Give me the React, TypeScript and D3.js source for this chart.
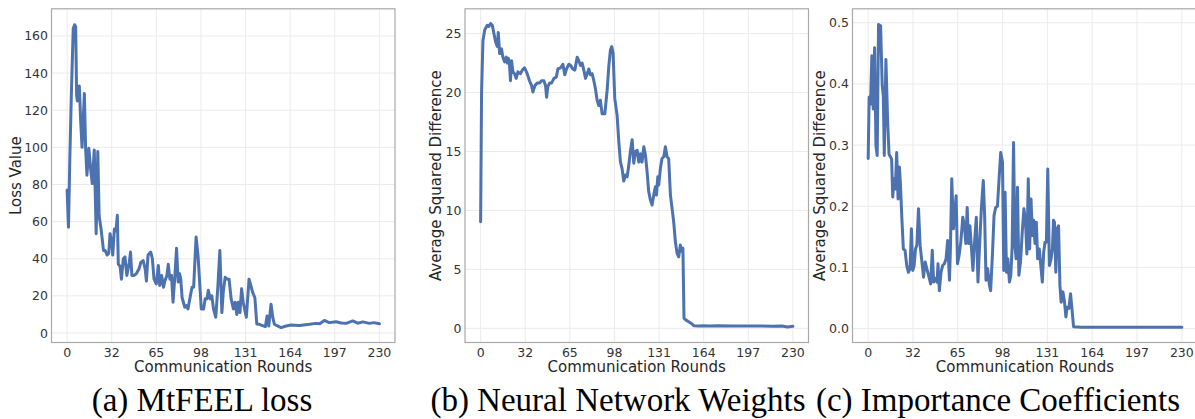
import React from "react";
import * as d3 from "d3";

// ---------- Data ----------
const roundsA = [0,1,2,3,4.5,5.5,6.3,7,7.5,9,10,11,12.7,13.6,14.6,16,17.3,18.5,20,21.4,22.6,23.6,25,26.8,28,29.5,30.7,31.6,32.9,33.6,34.8,36,37,37.7,39,40,41.4,42.6,44,45.8,46.7,47.7,49.4,51,53,54.3,56,57.5,58.4,59.6,61.6,62.8,64,65.7,67.2,68.2,69.6,71,72,73.5,74.5,75.7,76.9,78,79.4,80.6,81.8,82.8,83.7,84.7,86.7,87.9,89,90.8,92,93.2,95,96.4,97.6,98.8,100.5,101.7,103,104,105.4,106.6,107.8,109.5,111,112.5,114,115,116.4,118,119.3,120.8,122.5,123.7,125,126,127.3,128.5,129.7,131,132,134,135.3,136.6,138.3,139.7,141.6,144,146,147.3,148.5,150.2,151.5,152.7,155,157.6,161.3,165,171,178.5,183.4,186,189.5,193,198,202,205.5,210.4,214,217.8,222.7,226,230];
const lossA = [77,57,94,125,164,166,165,128,125,133,114,100,129,100,85,99.5,88.6,80.5,98.6,53.5,97.7,63,56,44.5,44.5,42,43,53.5,49,42,56,55,63.4,37,36,29,40,41,31,38,43.6,31,31,32,34.6,38,39,34.6,28,42,43.6,40,29,26.5,36.4,25.6,31,24.7,28,31,37,29,31,16.6,31,45.6,27.5,32,29,19,13.9,14.8,13,20,24.7,24.7,51.7,42,27.6,13,13,18.4,18.4,23,18.4,20,13,8.5,24.7,44.5,11,22,30,29,29,18.4,13,16.6,10,16.6,11,23.8,16.6,12,8.5,29,25.6,22,19,4.9,4.7,4,3.4,9.2,3.8,15.5,8.3,4.7,3.8,2.9,3.8,4.3,4.1,4.7,5.2,5.0,6.8,5.6,6.1,5.4,5.2,6.5,5.3,6,5.2,5.6,5];

const roundsB = [0,0.7,1.7,3,4.9,6.1,7.4,8.6,9.8,11,12.3,13,14,15.4,16.4,17.7,18.9,19.6,20.4,21.3,22,22.8,23.8,25,26.2,27.5,29.4,30.7,32.4,34.3,36,37.5,38.5,40,41.7,43.4,44.9,46.6,47.8,48.6,49.5,50.8,52.2,54,55.7,56.9,58.9,60.6,62,63.3,65,66.2,67.9,69.4,71.1,72.3,73.6,74.8,76,77.3,78.5,79.7,80.9,82.1,83.4,84.6,85.8,87,88.2,89.5,91.5,93.2,94.4,95.6,96.6,97.6,98.8,100.5,101.8,103,104.2,105.4,106.7,107.9,109,110.3,111.6,112.8,114,115.3,116.5,117.7,118.9,120.2,121.4,122.6,123.8,125,126.3,127.5,128.7,129.5,130.5,131.2,132.4,133.6,134.9,136.1,137.3,138.5,139.8,141,142.2,143.5,144.7,145.9,147.1,148.4,149,149.8,151.3,153.3,155.2,157,160.6,164.3,168,175,185,195,205,215,222,226,230];
const weightsB = [9.04,20,24.4,25.3,25.7,25.6,25.85,25.7,25,24.3,23.9,25.1,23.3,23.7,23,22.6,23,22.5,22.9,22.3,21,22.7,21.75,21.6,21.2,21.75,21.6,21.9,22.1,21.6,21,20.6,20.05,20.6,20.8,20.8,21,21,20.6,19.6,20.5,20.8,20.8,21.2,21.3,22,22.1,22.4,21.5,22,22.4,22.3,22,21.9,23,22.7,22.3,22.5,21.9,21.2,21.6,22,21.5,21.6,21,20.3,19.35,18.9,19.35,18.2,18.2,20.2,22.2,23.6,23.9,23.3,19.5,18.1,15.8,14.1,13.55,12.5,13,12.85,13.7,15,16,14,15,15.1,14.1,14.8,14.1,15.4,14.7,13.3,11.6,10.9,10.45,11.3,12,11.3,12.85,12.15,13.55,14.4,14.55,15.4,14.55,14.4,11.3,10.2,9.04,7.3,6.36,6.07,7.06,6.5,6.8,0.85,0.7,0.56,0.42,0.23,0.2,0.23,0.2,0.22,0.2,0.19,0.2,0.17,0.2,0.12,0.17];

const roundsC = [0,0.7,1.7,2.7,3.7,4.7,5.7,6.6,7.6,9.1,10.3,11.1,11.8,13,14.3,15.3,16.5,17.2,18,19,19.9,20.9,21.9,22.9,23.6,24.6,25.8,27,28.3,29.5,30.7,31.7,32.7,33.7,34.7,35.7,36.9,38.1,39.4,40.6,41.8,43,44.3,45.8,47,48,49.2,50.5,51.2,52.2,53.4,54.6,55.9,57.1,58.3,59.6,60.3,61.3,62.5,63.5,64.5,65.5,66.7,67.9,69.4,70.6,71.6,72.6,73.6,74.6,75.6,76.8,78,79.3,80.5,81.7,83,84.4,85.4,86.4,87.6,88.9,89.8,91.1,92.3,93.5,94.8,96,97.2,98.5,99.4,100.4,101.4,102.4,103.6,104.6,105.6,106.6,107.6,108.5,109.5,110.5,111.7,113,114.2,115.4,116.4,117.4,118.4,119.4,120.4,121.4,122.3,123.3,124.3,125.5,126.8,127.7,128.7,129.7,130.7,131.7,132.9,134.1,135.1,135.9,136.6,137.6,138.6,139.6,140.6,141.5,142.8,144,145,145.9,147.2,148.4,149.4,150.6,156.3,230];
const coeffC = [0.278,0.378,0.367,0.446,0.359,0.459,0.299,0.283,0.497,0.495,0.397,0.38,0.283,0.44,0.337,0.285,0.28,0.277,0.215,0.245,0.228,0.288,0.212,0.264,0.239,0.185,0.13,0.128,0.103,0.092,0.098,0.163,0.095,0.103,0.13,0.136,0.196,0.136,0.109,0.084,0.109,0.098,0.087,0.073,0.128,0.076,0.082,0.076,0.106,0.062,0.092,0.103,0.106,0.114,0.144,0.079,0.13,0.245,0.163,0.19,0.217,0.106,0.12,0.141,0.182,0.168,0.139,0.198,0.139,0.168,0.136,0.095,0.141,0.182,0.076,0.136,0.196,0.242,0.185,0.079,0.098,0.071,0.062,0.12,0.185,0.198,0.2,0.245,0.288,0.272,0.095,0.223,0.092,0.114,0.076,0.087,0.136,0.304,0.136,0.114,0.231,0.087,0.109,0.158,0.196,0.174,0.122,0.245,0.13,0.212,0.152,0.177,0.139,0.174,0.114,0.13,0.098,0.076,0.125,0.141,0.141,0.261,0.103,0.114,0.13,0.177,0.174,0.092,0.163,0.168,0.071,0.043,0.06,0.043,0.019,0.035,0.033,0.057,0.033,0.003,0.002,0.002];

const yTicksA = [0, 20, 40, 60, 80, 100, 120, 140, 160];
const yTicksB = [0, 5, 10, 15, 20, 25];
const yTicksC = [0, 0.1, 0.2, 0.3, 0.4, 0.5];
const xTickCount = 8;
const maxRound = 230;

const yLabels = ["Loss Value", "Average Squared Difference", "Average Squared Difference"];
const captions = ["(a) MtFEEL loss", "(b) Neural Network Weights", "(c) Importance Coefficients"];

// ---------- Layout ----------
const W = 1195, H = 419;
const LINE = "#4c72b0";

const panels = [
  { xs: roundsA, ys: lossA, yTicks: yTicksA, fmt: (v: number) => String(v), left: 51.5, right: 395, yDom: [-5.1, 174.6], yLabelX: 21, captionX: 202, yLabel: yLabels[0], caption: captions[0] },
  { xs: roundsB, ys: weightsB, yTicks: yTicksB, fmt: (v: number) => String(v), left: 465, right: 808.5, yDom: [-1.2, 27.1], yLabelX: 441, captionX: 618, yLabel: yLabels[1], caption: captions[1] },
  { xs: roundsC, ys: coeffC, yTicks: yTicksC, fmt: (v: number) => v.toFixed(1), left: 852.5, right: 1197.5, yDom: [-0.0228, 0.5228], yLabelX: 825, captionX: 998, yLabel: yLabels[2], caption: captions[2] },
];
const TOP = 8.8, BOTTOM = 342.5;

function Panel({ p }: { p: typeof panels[number] }) {
  const x = d3.scaleLinear().domain([-11.5, maxRound + 11.5]).range([p.left, p.right]);
  const y = d3.scaleLinear().domain(p.yDom).range([BOTTOM, TOP]);
  const xTicks = d3.range(xTickCount).map((i) => (i * maxRound) / (xTickCount - 1));
  const pts: [number, number][] = p.xs.map((r, i) => [r, p.ys[i]]);
  const line = d3.line<[number, number]>().x((d) => x(d[0])).y((d) => y(d[1]));
  const cx = (p.left + p.right) / 2;
  const cy = (TOP + BOTTOM) / 2;
  return (
    <g>
      <rect x={p.left} y={TOP} width={p.right - p.left} height={BOTTOM - TOP} fill="#fff" />
      {xTicks.map((t) => (
        <line key={"gx" + t} x1={x(t)} x2={x(t)} y1={TOP} y2={BOTTOM} stroke="#ebebeb" strokeWidth={1} />
      ))}
      {p.yTicks.map((t) => (
        <line key={"gy" + t} x1={p.left} x2={p.right} y1={y(t)} y2={y(t)} stroke="#ebebeb" strokeWidth={1} />
      ))}
      <path d={line(pts) || ""} fill="none" stroke={LINE} strokeWidth={3} strokeLinejoin="round" strokeLinecap="round" />
      <rect x={p.left} y={TOP} width={p.right - p.left} height={BOTTOM - TOP} fill="none" stroke="#a9a9a9" strokeWidth={1.2} />
      {xTicks.map((t) => (
        <text key={"tx" + t} x={x(t)} y={356.7} textAnchor="middle" fontSize={12.5} fill="#333" fontFamily="DejaVu Sans">
          {Math.floor(t + 1e-9)}
        </text>
      ))}
      {p.yTicks.map((t) => (
        <text key={"ty" + t} x={p.left - 3.5} y={y(t) + 4.5} textAnchor="end" fontSize={12.5} fill="#333" fontFamily="DejaVu Sans">
          {p.fmt(t)}
        </text>
      ))}
      <text x={cx} y={371.5} textAnchor="middle" fontSize={15} fill="#262626" fontFamily="DejaVu Sans">
        Communication Rounds
      </text>
      <text transform={`translate(${p.yLabelX},${cy}) rotate(-90)`} textAnchor="middle" fontSize={15} fill="#262626" fontFamily="DejaVu Sans">
        {p.yLabel}
      </text>
      <text x={p.captionX} y={411} textAnchor="middle" fontSize={33} fill="#000" fontFamily="Liberation Serif">
        {p.caption}
      </text>
    </g>
  );
}

export default function App() {
  return (
    <svg width={W} height={H} viewBox={`0 0 ${W} ${H}`} style={{ position: "fixed", left: 0, top: 0, background: "#fff" }}>
      <rect width={W} height={H} fill="#fff" />
      {panels.map((p, i) => (
        <Panel key={i} p={p} />
      ))}
    </svg>
  );
}
